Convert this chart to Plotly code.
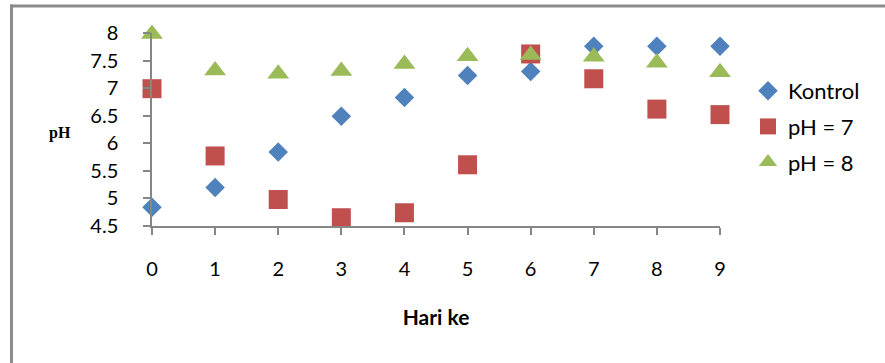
import plotly.graph_objects as go

# ---- data ----
days = [0, 1, 2, 3, 4, 5, 6, 7, 8, 9]
kontrol = [4.84, 5.20, 5.84, 6.49, 6.83, 7.23, 7.30, 7.76, 7.76, 7.76]
ph7 = [6.99, 5.77, 4.98, 4.65, 4.74, 5.61, 7.62, 7.17, 6.62, 6.52]
ph8 = [7.98, 7.32, 7.26, 7.31, 7.44, 7.58, 7.60, 7.57, 7.46, 7.29]
series_names = ["Kontrol", "pH = 7", "pH = 8"]
y_tick_vals = [4.5, 5, 5.5, 6, 6.5, 7, 7.5, 8]
y_tick_text = ["4.5", "5", "5.5", "6", "6.5", "7", "7.5", "8"]
x_tick_vals = days
x_title = "Hari ke"
y_title = "pH"

# ---- layout constants (pixels) ----
W, H = 885, 363
L, R, T, B = 152, 165, 33, 137
pw, ph = W - L - R, H - T - B


def px_x(p):
    return (p - L) / pw


def px_y(p):
    return (H - B - p) / ph


FONT = "Lato"
frame_col = "#8c8c8c"
axis_col = "#868686"

fig = go.Figure()
fig.add_trace(go.Scatter(x=days, y=kontrol, name=series_names[0], mode="markers",
                         legendgroup="a",
                         marker=dict(symbol="diamond", size=15, color="#4F81BD"),
                         cliponaxis=False))
fig.add_trace(go.Scatter(x=days, y=ph7, name=series_names[1], mode="markers",
                         legendgroup="b",
                         marker=dict(symbol="square", size=19, color="#C0504D"),
                         cliponaxis=False))
fig.add_trace(go.Scatter(x=days, y=ph8, name=series_names[2], mode="markers",
                         legendgroup="c",
                         marker=dict(symbol="triangle-up", size=19, color="#9BBB59"),
                         cliponaxis=False))

fig.update_layout(
    width=W, height=H, autosize=False,
    margin=dict(l=L, r=R, t=T, b=B, pad=0),
    paper_bgcolor="white", plot_bgcolor="white",
    font=dict(family=FONT, size=20, color="black"),
    showlegend=True,
    legend=dict(x=px_x(748), y=px_y(126.5), xanchor="left", yanchor="middle",
                font=dict(family=FONT, size=22, color="black"),
                tracegroupgap=4, itemwidth=30, bgcolor="rgba(0,0,0,0)"),
    xaxis=dict(range=[0, 9], tickvals=x_tick_vals, showgrid=False, zeroline=False,
               showline=True, linecolor=axis_col, linewidth=1.5,
               ticks="outside", ticklen=7, tickwidth=1.5, tickcolor=axis_col,
               ticklabelstandoff=17,
               tickfont=dict(family=FONT, size=20, color="black"),
               title=dict(text="<b>" + x_title + "</b>", standoff=32,
                          font=dict(family=FONT, size=21, color="black"))),
    yaxis=dict(range=[4.5, 8], tickvals=y_tick_vals, ticktext=y_tick_text,
               showgrid=False, zeroline=False,
               showline=True, linecolor=axis_col, linewidth=1.5,
               ticks="outside", ticklen=7, tickwidth=1.5, tickcolor=axis_col,
               ticklabelstandoff=21,
               tickfont=dict(family=FONT, size=20, color="black")),
    annotations=[dict(text="<b>" + y_title + "</b>", xref="paper", yref="paper",
                      x=px_x(60), y=px_y(133), showarrow=False,
                      xanchor="center", yanchor="middle",
                      font=dict(family="Liberation Serif", size=16, color="black"))],
    shapes=[
        dict(type="line", xref="paper", yref="paper", layer="above",
             x0=px_x(11.5), x1=px_x(11.5), y0=px_y(4.5), y1=px_y(H + 20),
             line=dict(color=frame_col, width=3)),
        dict(type="line", xref="paper", yref="paper", layer="above",
             x0=px_x(10), x1=px_x(W + 20), y0=px_y(6), y1=px_y(6),
             line=dict(color=frame_col, width=3)),
    ],
)

fig.write_html("out.html", config={"displayModeBar": False},
               post_script="document.body.style.margin='0';document.body.style.overflow='hidden';")
